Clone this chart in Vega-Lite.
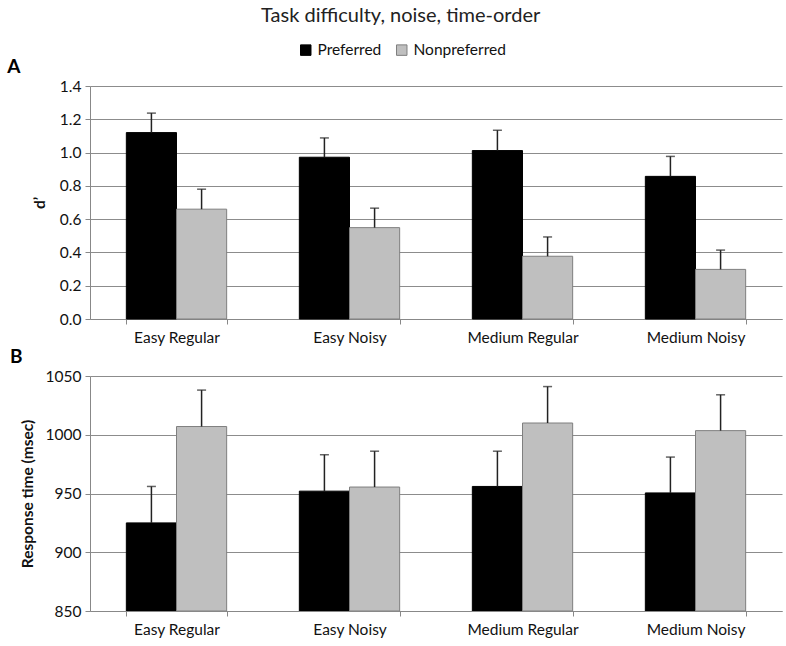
{
  "$schema": "https://vega.github.io/schema/vega-lite/v6.json",
  "padding": {"left": 7, "top": 6, "right": 2, "bottom": 4},
  "background": "white",
  "title": {"text": "Task difficulty, noise, time-order", "anchor": "middle", "frame": "bounds", "dx": 6, "fontSize": 20, "fontWeight": "normal", "font": "Lato", "color": "#222", "offset": 16},
  "config": {
    "font": "Lato",
    "view": {"stroke": null},
    "axis": {"labelFont": "Lato", "labelFontSize": 15.5, "labelColor": "#111", "labelOverlap": false, "titleFont": "Lato", "titleFontSize": 15.5, "titleFontWeight": "bold", "titleColor": "#111", "domainColor": "#888", "tickColor": "#888", "gridColor": "#8c8c8c", "gridWidth": 1},
    "concat": {"spacing": 2}
  },
  "datasets": {
    "dA": [
      {"cond": "Easy Regular", "group": "Preferred", "value": 1.12, "upper": 1.237},
      {"cond": "Easy Regular", "group": "Nonpreferred", "value": 0.66, "upper": 0.78},
      {"cond": "Easy Noisy", "group": "Preferred", "value": 0.972, "upper": 1.088},
      {"cond": "Easy Noisy", "group": "Nonpreferred", "value": 0.549, "upper": 0.666},
      {"cond": "Medium Regular", "group": "Preferred", "value": 1.012, "upper": 1.134},
      {"cond": "Medium Regular", "group": "Nonpreferred", "value": 0.377, "upper": 0.493},
      {"cond": "Medium Noisy", "group": "Preferred", "value": 0.857, "upper": 0.977},
      {"cond": "Medium Noisy", "group": "Nonpreferred", "value": 0.298, "upper": 0.414}
    ],
    "dB": [
      {"cond": "Easy Regular", "group": "Preferred", "value": 925, "upper": 956},
      {"cond": "Easy Regular", "group": "Nonpreferred", "value": 1007, "upper": 1038},
      {"cond": "Easy Noisy", "group": "Preferred", "value": 952, "upper": 983},
      {"cond": "Easy Noisy", "group": "Nonpreferred", "value": 955.5, "upper": 986},
      {"cond": "Medium Regular", "group": "Preferred", "value": 956, "upper": 986},
      {"cond": "Medium Regular", "group": "Nonpreferred", "value": 1010, "upper": 1041},
      {"cond": "Medium Noisy", "group": "Preferred", "value": 950.5, "upper": 981},
      {"cond": "Medium Noisy", "group": "Nonpreferred", "value": 1003.5, "upper": 1034}
    ]
  },
  "vconcat": [
    {
      "width": 692,
      "height": 233,
      "title": {"text": "A", "anchor": "start", "frame": "bounds", "fontSize": 19, "fontWeight": "bold", "font": "Lato", "color": "#000", "offset": 2, "dx": -25},
      "data": {"name": "dA"},
      "encoding": {
        "x": {"field": "cond", "type": "nominal", "sort": ["Easy Regular", "Easy Noisy", "Medium Regular", "Medium Noisy"], "scale": {"paddingInner": 0.42, "paddingOuter": 0.21}, "axis": {"title": null, "labelAngle": 0, "tickBand": "extent", "tickSize": 5, "labelPadding": 6, "domainColor": "#888"}},
        "xOffset": {"field": "group", "type": "nominal", "sort": ["Preferred", "Nonpreferred"], "scale": {"paddingInner": 0, "paddingOuter": 0}}
      },
      "layer": [
        {
          "mark": {"type": "bar", "strokeWidth": 1},
          "encoding": {
            "y": {"field": "value", "type": "quantitative", "scale": {"domain": [0, 1.4], "nice": false}, "axis": {"title": "d’", "values": [0, 0.2, 0.4, 0.6, 0.8, 1.0, 1.2, 1.4], "format": ".1f", "labelOverlap": false, "grid": true, "tickSize": 5, "labelPadding": 4, "titlePadding": 12}},
            "color": {"field": "group", "type": "nominal", "scale": {"domain": ["Preferred", "Nonpreferred"], "range": ["#000000", "#bfbfbf"]}, "legend": {"title": null, "orient": "none", "legendX": 208, "legendY": -44, "direction": "horizontal", "symbolType": "square", "symbolSize": 110, "symbolStrokeColor": "#555", "symbolStrokeWidth": 1, "labelFontSize": 15.5, "labelFont": "Lato", "labelColor": "#111", "columnPadding": 12, "symbolOpacity": 1}},
            "stroke": {"field": "group", "type": "nominal", "scale": {"domain": ["Preferred", "Nonpreferred"], "range": ["#000000", "#7f7f7f"]}, "legend": null}
          }
        },
        {
          "mark": {"type": "rule", "color": "#222", "strokeWidth": 1.5},
          "encoding": {"y": {"field": "value", "type": "quantitative", "axis": {"title": "d’", "values": [0, 0.2, 0.4, 0.6, 0.8, 1.0, 1.2, 1.4], "format": ".1f", "labelOverlap": false, "grid": true, "tickSize": 5, "labelPadding": 4, "titlePadding": 12}}, "y2": {"field": "upper"}}
        },
        {
          "mark": {"type": "tick", "color": "#222", "thickness": 1.5, "size": 9},
          "encoding": {"y": {"field": "upper", "type": "quantitative", "axis": {"title": "d’", "values": [0, 0.2, 0.4, 0.6, 0.8, 1.0, 1.2, 1.4], "format": ".1f", "labelOverlap": false, "grid": true, "tickSize": 5, "labelPadding": 4, "titlePadding": 12}}}
        }
      ]
    },
    {
      "width": 692,
      "height": 235,
      "title": {"text": "B", "anchor": "start", "frame": "bounds", "fontSize": 19, "fontWeight": "bold", "font": "Lato", "color": "#000", "offset": 2, "dx": -10},
      "data": {"name": "dB"},
      "encoding": {
        "x": {"field": "cond", "type": "nominal", "sort": ["Easy Regular", "Easy Noisy", "Medium Regular", "Medium Noisy"], "scale": {"paddingInner": 0.42, "paddingOuter": 0.21}, "axis": {"title": null, "labelAngle": 0, "tickBand": "extent", "tickSize": 5, "labelPadding": 6}},
        "xOffset": {"field": "group", "type": "nominal", "sort": ["Preferred", "Nonpreferred"], "scale": {"paddingInner": 0, "paddingOuter": 0}}
      },
      "layer": [
        {
          "mark": {"type": "bar", "strokeWidth": 1, "clip": true},
          "encoding": {
            "y": {"field": "value", "type": "quantitative", "scale": {"domain": [850, 1050], "nice": false, "zero": false}, "axis": {"title": "Response time (msec)", "values": [850, 900, 950, 1000, 1050], "format": "d", "labelOverlap": false, "grid": true, "tickSize": 5, "labelPadding": 4, "titlePadding": 10}},
            "y2": {"datum": 850},
            "color": {"field": "group", "type": "nominal"},
            "stroke": {"field": "group", "type": "nominal", "legend": null}
          }
        },
        {
          "mark": {"type": "rule", "color": "#222", "strokeWidth": 1.5},
          "encoding": {"y": {"field": "value", "type": "quantitative", "axis": {"title": "Response time (msec)", "values": [850, 900, 950, 1000, 1050], "format": "d", "labelOverlap": false, "grid": true, "tickSize": 5, "labelPadding": 4, "titlePadding": 10}}, "y2": {"field": "upper"}}
        },
        {
          "mark": {"type": "tick", "color": "#222", "thickness": 1.5, "size": 9},
          "encoding": {"y": {"field": "upper", "type": "quantitative", "axis": {"title": "Response time (msec)", "values": [850, 900, 950, 1000, 1050], "format": "d", "labelOverlap": false, "grid": true, "tickSize": 5, "labelPadding": 4, "titlePadding": 10}}}
        }
      ]
    }
  ]
}
